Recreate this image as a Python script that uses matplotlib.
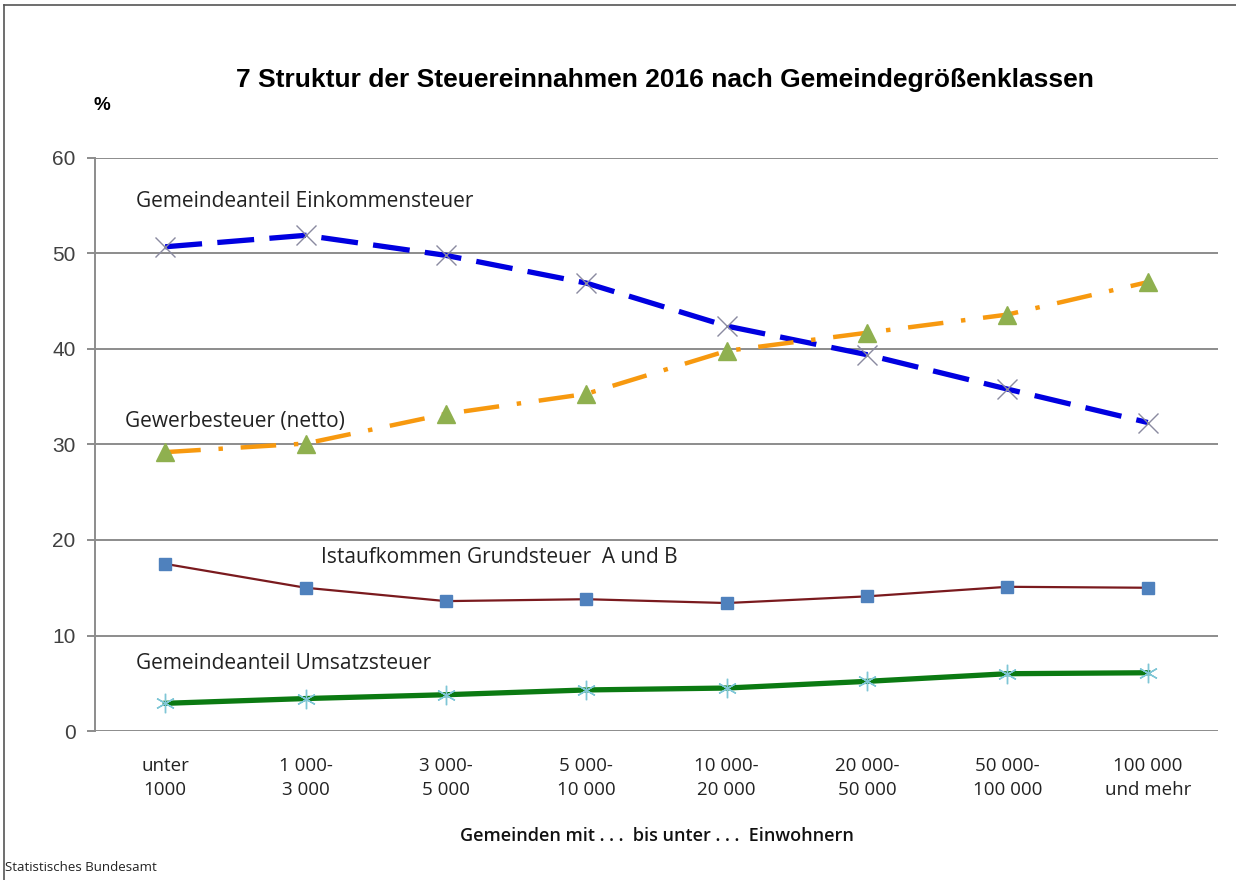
import numpy as np
import matplotlib
matplotlib.use("Agg")
import matplotlib.pyplot as plt
from matplotlib.lines import Line2D

# Gemeindegrößenklassen
categories = ['unter\n1000', '1 000-\n3 000', '3 000-\n5 000', '5 000-\n10 000',
              '10 000-\n20 000', '20 000-\n50 000', '50 000-\n100 000', '100 000\nund mehr']

# Anteile in %
einkommen = [50.7, 51.9, 49.8, 46.9, 42.4, 39.4, 35.8, 32.3]
gewerbe = [29.2, 30.1, 33.2, 35.3, 39.8, 41.7, 43.6, 47.0]
grundsteuer = [17.5, 15.0, 13.6, 13.8, 13.4, 14.1, 15.1, 15.0]
umsatz = [2.9, 3.4, 3.8, 4.3, 4.5, 5.2, 6.0, 6.1]

label_font = 'Open Sans'

fig = plt.figure(figsize=(12.36, 8.8), dpi=100)
ax = fig.add_axes([0.0769, 0.1693, 0.9085, 0.6512])

x = np.arange(len(categories))

ax.plot(x, einkommen, color='#0000e0', lw=3.8, dashes=(7, 2.9), zorder=3)
ax.plot(x, einkommen, ls='none', marker='x', ms=14, mew=1.0, color='#8a8aa0', zorder=4)

ax.plot(x, gewerbe, color='#f7990f', lw=3.2, dashes=(8, 4, 1, 4), zorder=3)
ax.plot(x, gewerbe, ls='none', marker='^', ms=13, color='#8fb04f', zorder=4)

ax.plot(x, grundsteuer, color='#7a1a1e', lw=1.6, zorder=3)
ax.plot(x, grundsteuer, ls='none', marker='s', ms=8, color='#4f81bd', zorder=4)

ax.plot(x, umsatz, color='#0b7a12', lw=3.8, zorder=3)
ax.plot(x, umsatz, ls='none', marker=(6, 2, 0), ms=14, mew=1.0, color='#7fc6d6', zorder=4)

ax.set_xlim(-0.5, 7.5)
ax.set_ylim(0, 60)
ax.set_yticks(np.arange(0, 61, 10))
ax.yaxis.grid(True, color='#8c8c8c', lw=1.4)
ax.set_axisbelow(True)
for s in ['top', 'right', 'bottom']:
    ax.spines[s].set_visible(False)
ax.spines['left'].set_color('#8c8c8c')
ax.spines['left'].set_linewidth(1.4)
ax.tick_params(axis='y', length=6, color='#8c8c8c', width=1.4, labelsize=15,
               labelcolor='#404040', pad=8)
for lab in ax.get_yticklabels():
    lab.set_family('Liberation Sans')
ax.set_xticks(x)
ax.set_xticklabels(categories, family=label_font, fontsize=13.5, color='#222222',
                   linespacing=1.4)
ax.tick_params(axis='x', length=0, pad=19)

ax.set_xlabel('Gemeinden mit . . .  bis unter . . .  Einwohnern', family=label_font,
              fontsize=13, fontweight='semibold', labelpad=20, color='#111111')

# Reihenbeschriftungen
ax.text(-0.21, 55.4, 'Gemeindeanteil Einkommensteuer', family=label_font, fontsize=15,
        va='center', color='#222222')
ax.text(-0.29, 32.4, 'Gewerbesteuer (netto)', family=label_font, fontsize=15,
        va='center', color='#222222')
ax.text(1.11, 18.2, 'Istaufkommen Grundsteuer  A und B', family=label_font, fontsize=15,
        va='center', color='#222222')
ax.text(-0.21, 7.1, 'Gemeindeanteil Umsatzsteuer', family=label_font, fontsize=15,
        va='center', color='#222222')

fig.text(0.538, 0.909, '7 Struktur der Steuereinnahmen 2016 nach Gemeindegrößenklassen',
         ha='center', va='center', family='Liberation Sans', fontweight='bold', fontsize=19)
fig.text(0.076, 0.880, '%', ha='left', va='center', family='Liberation Sans',
         fontweight='bold', fontsize=13.5)
fig.text(0.004, 0.014, 'Statistisches Bundesamt', ha='left', va='center',
         family=label_font, fontsize=9.5, color='#222222')

# Rahmen oben und links
fig.add_artist(Line2D([0.003, 1.0], [0.994, 0.994], color='#555555', lw=1.2))
fig.add_artist(Line2D([0.003, 0.003], [0.0, 0.994], color='#555555', lw=1.2))

fig.savefig('out.png', dpi=100)
